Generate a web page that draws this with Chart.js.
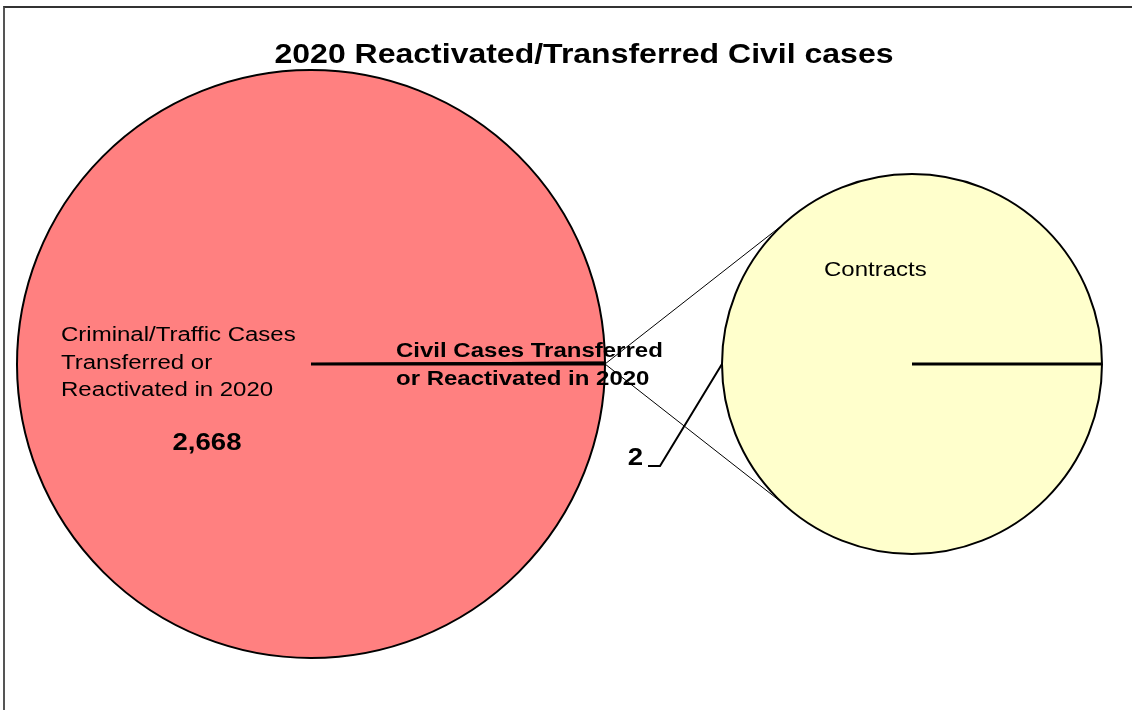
<!DOCTYPE html>
<html>
<head>
<meta charset="utf-8">
<title>2020 Reactivated/Transferred Civil cases</title>
<script src="https://cdn.jsdelivr.net/npm/chart.js@4.4.0/dist/chart.umd.min.js"></script>
<style>
  html, body { margin: 0; padding: 0; background: #fff; overflow: hidden; }
  #wrap { position: relative; width: 1132px; height: 710px; overflow: hidden; }
  #frame { position: absolute; left: 3px; top: 6px; width: 1300px; height: 900px;
           border-top: 2px solid #333; border-left: 2px solid #555; }
  canvas { position: absolute; left: 0; top: 0; }
</style>
</head>
<body>
<div id="wrap">
  <div id="frame"></div>
  <canvas id="mainPie" width="1132" height="710"></canvas>
  <canvas id="detailPie" width="1132" height="710"></canvas>
</div>
<script>
// --- data ---
const chartTitle = "2020 Reactivated/Transferred Civil cases";
const mainLabels = ["Criminal/Traffic Cases Transferred or Reactivated in 2020",
                    "Civil Cases Transferred or Reactivated in 2020"];
const mainValues = [2668, 2];
const detailLabels = ["Contracts"];
const detailValues = [2];

const RED = "#FF8080";
const YELLOW = "#FFFFCC";
const TEXT_SX = 1.2; // the source text is drawn a bit wider than Arial

// helper: draw text stretched horizontally
function drawText(ctx, text, x, y, font, align, sx) {
  ctx.save();
  ctx.font = font;
  ctx.fillStyle = "#000";
  ctx.textBaseline = "alphabetic";
  ctx.textAlign = align || "left";
  ctx.translate(x, y);
  ctx.scale(sx || TEXT_SX, 1);
  ctx.fillText(text, 0, 0);
  ctx.restore();
}

const fmt = (v) => v.toLocaleString("en-US");

// labels for the big pie
const mainLabelPlugin = {
  id: "mainLabelPlugin",
  afterDatasetsDraw(chart) {
    const ctx = chart.ctx;
    const meta = chart.getDatasetMeta(0);
    const arc = meta.data[0];
    const cx = arc.x, cy = arc.y;
    const F = "Liberation Sans, Arial, sans-serif";

    // split edge drawn a bit heavier, like the source
    const civ = meta.data[1];
    ctx.save();
    ctx.strokeStyle = "#000";
    ctx.lineWidth = 3;
    ctx.beginPath();
    ctx.moveTo(cx, cy);
    ctx.lineTo(cx + civ.outerRadius * Math.cos(civ.endAngle), cy + civ.outerRadius * Math.sin(civ.endAngle));
    ctx.stroke();
    ctx.restore();

    // title
    drawText(ctx, chartTitle, 584, 63, "bold 27px " + F, "center", 1.185);

    // criminal / traffic slice
    drawText(ctx, "Criminal/Traffic Cases", cx - 250, cy - 23, "20px " + F);
    drawText(ctx, "Transferred or", cx - 250, cy + 5, "20px " + F);
    drawText(ctx, "Reactivated in 2020", cx - 250, cy + 32, "20px " + F);
    drawText(ctx, fmt(mainValues[0]), cx - 104, cy + 86, "bold 23px " + F, "center");

    // civil slice
    drawText(ctx, "Civil Cases Transferred", cx + 85, cy - 7, "bold 20px " + F);
    drawText(ctx, "or Reactivated in 2020", cx + 85, cy + 21, "bold 20px " + F);
  }
};

const mainChart = new Chart(document.getElementById("mainPie"), {
  type: "pie",
  data: {
    labels: mainLabels,
    datasets: [{
      data: mainValues,
      backgroundColor: [RED, RED],
      borderColor: "#000",
      borderWidth: 2,
      radius: 294
    }]
  },
  options: {
    responsive: false,
    animation: false,
    rotation: 90,
    layout: { padding: { left: 16, right: 526, top: 70, bottom: 52 } },
    plugins: { legend: { display: false }, tooltip: { enabled: false }, title: { display: false } }
  },
  plugins: [mainLabelPlugin]
});

// connector lines + labels for the small pie
const detailPlugin = {
  id: "detailPlugin",
  afterDatasetsDraw(chart) {
    const ctx = chart.ctx;
    const small = chart.getDatasetMeta(0).data[0];
    const big = mainChart.getDatasetMeta(0).data[1];
    const F = "Liberation Sans, Arial, sans-serif";

    // split slice edge point on the big pie
    const px = big.x + big.outerRadius * Math.cos(big.endAngle);
    const py = big.y + big.outerRadius * Math.sin(big.endAngle);
    const a = 47 * Math.PI / 180;
    ctx.save();
    ctx.strokeStyle = "#000";
    ctx.lineWidth = 1;
    ctx.beginPath();
    ctx.moveTo(px, py);
    ctx.lineTo(small.x - small.outerRadius * Math.cos(a), small.y - small.outerRadius * Math.sin(a));
    ctx.moveTo(px, py);
    ctx.lineTo(small.x - small.outerRadius * Math.cos(a), small.y + small.outerRadius * Math.sin(a));
    ctx.stroke();

    // radial line of the single slice
    ctx.lineWidth = 3;
    ctx.beginPath();
    ctx.moveTo(small.x, small.y);
    ctx.lineTo(small.x + small.outerRadius * Math.cos(small.startAngle),
               small.y + small.outerRadius * Math.sin(small.startAngle));
    ctx.stroke();

    // leader line for the value label
    const lx = small.x - small.outerRadius, ly = small.y;
    ctx.lineWidth = 2;
    ctx.beginPath();
    ctx.moveTo(lx, ly);
    ctx.lineTo(lx - 62, ly + 102);
    ctx.lineTo(lx - 74, ly + 102);
    ctx.stroke();
    ctx.restore();

    drawText(ctx, fmt(detailValues[0]), lx - 79, ly + 101, "bold 23px " + F, "right");
    drawText(ctx, detailLabels[0], small.x - 88, small.y - 88, "20px " + F);
  }
};

new Chart(document.getElementById("detailPie"), {
  type: "pie",
  data: {
    labels: detailLabels,
    datasets: [{
      data: detailValues,
      backgroundColor: [YELLOW],
      borderColor: "#000",
      borderWidth: 2,
      radius: 190
    }]
  },
  options: {
    responsive: false,
    animation: false,
    rotation: 90,
    layout: { padding: { left: 722, right: 30, top: 174, bottom: 156 } },
    plugins: { legend: { display: false }, tooltip: { enabled: false }, title: { display: false } }
  },
  plugins: [detailPlugin]
});
</script>
</body>
</html>
